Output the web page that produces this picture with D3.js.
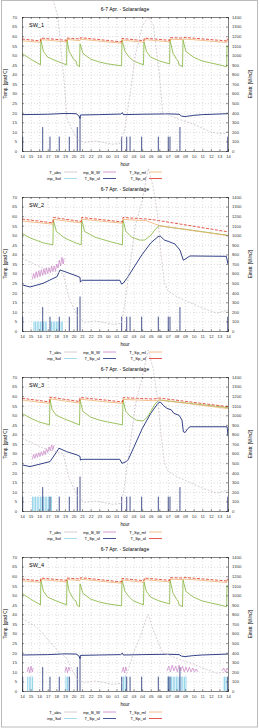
<!DOCTYPE html>
<html>
<head>
<meta charset="utf-8">
<script src="https://cdn.jsdelivr.net/npm/d3@7"></script>
<style>
  body { margin: 0; background: #fff; }
  svg { display: block; font-family: "Liberation Sans", Arial, sans-serif; }
</style>
</head>
<body>
<div id="chart"></div>
<script>
// ---- data (x in hours from start of window, values in grad C) ----
var hourLabels = ["14","15","16","17","18","19","20","21","22","23","00","01","02","03","04","05","06","07","08","09","10","11","12","13","14"];
var leftTicks = [0,5,10,15,20,25,30,35,40,45,50,55,60,65,70];
var rightTicks = [0,100,200,300,400,500,600,700,800,900,1000,1100,1200,1300,1400];
var panelNames = ["SW_1","SW_2","SW_3","SW_4"];
var legendNames = ["T_abs","inp_B_W","T_Sp_ml","inp_Sol","T_Sp_ul","T_Sp_ol"];

// pump pulses (same for all four)
var pumpHours  = [0.08, 2.41, 3.26, 4.34, 5.51, 6.44, 6.76, 11.61, 12.2, 12.59, 13.94, 15.88, 17.04, 17.24, 18.4, 23.97];
var pumpValues = [7.5, 12.5, 7.5, 7.5, 7.5, 12.5, 18, 7.5, 7.5, 7.5, 7.5, 7.5, 7.5, 7.5, 12.5, 7.5];

// SW_1
var sw1_ol = [[0,58.5],[2.15,57.5],[2.2,59],[5.2,57.8],[5.24,59],[6.76,58.5],[6.8,59.2],[11.6,57],[11.65,58.8],[14.2,57.6],[14.25,59],[17.2,57.8],[17.24,59.2],[18.76,59],[19,59.3],[23.85,57.5],[23.88,58.5],[24,58.3]];
var sw1_ml = [[0,57.6],[2.15,56.8],[2.2,58.2],[5.2,57],[5.24,58.3],[6.76,57.6],[6.8,58.4],[11.6,56.3],[11.65,58],[14.2,56.8],[14.25,58.2],[17.2,57],[17.24,58.4],[18.76,58.2],[19,58.5],[23.85,56.7],[23.88,57.7],[24,57.5]];
var sw1_vl = [[0,51],[1,48],[2.15,45],[2.2,58],[2.5,52],[3,49],[4,47],[5.2,45],[5.24,58],[5.5,52],[6,48],[6.3,47],[6.4,45],[6.7,44],[6.76,56],[7.1,51],[8,48],[9,46.5],[10,45.5],[11.6,44.5],[11.65,58],[12,52],[12.5,49],[13,47],[14.15,45],[14.21,57],[14.5,52],[15,49],[16,47],[17.2,45.5],[17.24,58],[17.6,51],[18,48],[18.2,47],[18.3,45],[18.7,44],[18.76,58],[19.1,52],[20,49],[21,47],[22,46],[23,45],[23.85,44],[23.88,55],[24,54]];
var sw1_ul = [[0,19],[3,19.2],[5,19.6],[6.3,19.5],[6.6,18.5],[6.76,17],[6.8,18.8],[9,19],[11.5,19.3],[11.7,20],[11.8,19],[14,19.2],[17,19.4],[18.3,19.2],[18.6,18.2],[19,18],[20,18.6],[21,19],[24,19.5]];
var sw1_abs = [[0,95],[3,86],[3.6,79],[4.2,70],[4.6,50],[5,32],[5.24,17],[5.83,11],[6.52,5.7],[7.3,4.5],[8.5,5.2],[9.5,4.5],[10.5,3.5],[11.4,4],[12,12],[12.6,30],[13.2,50],[14,65],[14.7,70],[15.3,66],[16,40],[16.4,20],[17,19],[18,17],[19,15.5],[20,14],[21,12],[22,10],[22.7,9.3],[23.5,9],[24,10]];
var sw1_bw = [];
var sw1_sol = [];

// SW_2
var sw2_ol = [[0,58.5],[3.6,56.5],[3.65,59.3],[6.9,57.2],[6.95,59.3],[11.7,57],[11.77,59.3],[14.5,58.5],[15.5,58],[24,51.8]];
var sw2_ml = [[0,57.5],[3.6,55.8],[3.65,58.3],[6.9,56.5],[6.95,58.4],[11.7,56.3],[11.77,58.3],[14.5,57.6],[16,55],[24,49.8]];
var sw2_vl = [[0,51],[1,48.5],[2.5,46],[3.6,45],[3.65,58],[4,52],[5,48.5],[6,46.5],[6.9,45],[6.95,58],[7.3,52],[8.5,49],[10,47],[11.7,45],[11.77,58],[12.1,52],[12.8,49],[13.7,47.5],[14.3,47.5],[15,50],[15.6,53.5],[16,55],[17,54.3],[20,52.5],[24,50]];
var sw2_ul = [[0.1,24],[0.93,23],[2.45,24.9],[4.08,28.4],[4.43,31.9],[5,31],[6.4,28.7],[6.76,28],[6.8,25.5],[7,26.5],[11.4,26.5],[11.6,24.5],[11.8,25],[12.3,28],[13,33],[14,40],[15,46],[15.85,49.3],[16.1,49.6],[16.6,47.5],[17.1,46.7],[17.5,46],[17.8,45.5],[18.4,42.3],[18.8,37],[19,37.5],[19.57,39.2],[23.8,39],[24,35]];
var sw2_abs = [[0,38],[2.4,33],[4.8,30],[5.5,17],[6.5,7.5],[7.3,4.5],[8.5,5.2],[9.5,4.5],[10.5,3.5],[11.6,4],[12,15],[12.6,35],[13.2,55],[14,68],[14.7,85],[15.3,75],[15.8,60],[16.2,40],[16.6,25],[17,21],[18,18],[19,16],[20,14],[21,12],[22.7,9.3],[24,11]];
var sw2_bw = [[1.2,27],[1.35,30],[1.5,27.5],[1.65,31],[1.8,28],[1.95,31.5],[2.1,28.5],[2.25,32],[2.4,29],[2.55,32.5],[2.7,29.5],[2.85,33],[3,30],[3.15,33],[3.3,30.5],[3.45,34],[3.6,31],[3.75,34],[3.9,31.5],[4.05,35],[4.2,33],[4.35,37],[4.5,34],[4.65,38.5],[4.8,35],[4.9,38]];
var sw2_sol = [[1.28,2.9,5],[3.26,4.78,5]];

// SW_3
var sw3_ol = [[0,58.9],[3.2,57],[3.26,59.5],[6.7,57.2],[6.76,59.3],[11.7,57],[11.77,59.2],[15.3,58.5],[16,59],[24,54.5]];
var sw3_ml = [[0,58],[3.2,56.2],[3.26,58.6],[6.7,56.4],[6.76,58.4],[11.7,56.2],[11.77,58.3],[15.3,57.6],[16,58],[24,53.5]];
var sw3_vl = [[0,51],[1,48.5],[2,46.5],[3.2,45],[3.26,58.5],[3.5,53],[4,50],[5,48],[6.7,45],[6.76,58],[7.1,52],[8,49],[9,47.5],[10,46.5],[11.7,45],[11.77,58],[12.1,52],[12.6,49.5],[13.3,47.5],[14.1,47],[14.6,49],[15,52],[15.5,56],[16,58],[17,57.5],[20,56],[24,54]];
var sw3_ul = [[0.1,24],[0.93,23.2],[3.26,25.8],[4.2,32],[4.3,32.8],[5.2,31],[6.4,29.3],[6.76,28.5],[6.8,26.6],[7,27],[11.4,27],[11.65,24.9],[12,25.5],[12.35,26.6],[13,33],[14,43],[15,51],[15.85,56.3],[16.1,57],[16.5,55],[16.9,53.6],[17.4,52.8],[17.7,51],[18.3,50],[18.64,47.5],[18.8,41.4],[19,41],[19.3,43],[19.57,44],[23.9,44],[24,39]];
var sw3_abs = [[0,38],[2.4,33],[4.8,30],[5.5,17],[6.5,7.5],[7.3,4.5],[8.5,5.2],[9.5,4.5],[10.5,3.5],[11.6,4],[12,15],[12.6,35],[13.2,55],[14,70],[14.7,84],[15.3,74],[15.8,58],[16.2,40],[16.6,25],[17,21],[18,18],[19,16],[20,14],[21,12],[22.7,9.3],[24,11]];
var sw3_bw = [[1.2,27],[1.35,29.5],[1.5,27.5],[1.65,30],[1.8,28],[1.95,30.5],[2.1,28.5],[2.25,31],[2.4,29],[2.55,31.5],[2.7,29.5],[2.85,32.5],[3,30.5],[3.15,33.5],[3.3,31.5],[3.45,34.5],[3.6,32],[3.75,34.5]];
var sw3_sol = [[1.16,3.5,7.5]];

// SW_4
var sw4_ul = [[0,18.8],[3,19],[5,19.4],[6.3,19.3],[6.6,18.5],[6.76,17],[6.8,18.6],[9,18.8],[11.5,19],[11.7,19.8],[11.8,18.8],[14,19],[17,19.2],[18.3,19],[18.6,18.2],[19,18],[20,18.5],[21,18.8],[24,19.3]];
var sw4_abs = [[0,38],[1.5,34],[2.45,30],[4.08,21.4],[5.24,17],[5.83,11],[6.52,5.7],[7.3,4.5],[8.5,5.2],[9.5,4.5],[10.5,3.5],[11.6,4],[12.3,10],[13,20],[13.75,28],[14.4,37],[14.7,40],[15.2,33],[16,24],[16.4,20],[17,19],[18,17],[19,15.5],[20,14],[21,12],[22.7,9.3],[24,10]];
var sw4_bw = [[0.6,10],[0.75,12.5],[0.9,9.5],[1.05,13],[1.2,10],[1.3,12],null,[5,10],[5.15,12.5],[5.3,9.5],[5.45,12.5],[5.6,10.5],null,[11.65,10],[11.8,12.5],[11.95,9.5],[12.1,12.5],[12.2,10.5],null,[16.9,10.5],[17.1,13],[17.3,10],[17.5,13.5],[17.7,10.5],[17.9,13],[18.1,10],[18.3,13.5],[18.5,10.5],[18.7,13],[18.9,10],[19.1,12.5],[19.3,10],[19.5,12.5],[19.7,10],[19.9,12],[20.1,10],[20.3,11.5],[20.5,10],null,[23.3,10.5],[23.5,12],[23.7,10],[23.9,12],[24,11]];
var sw4_sol = [[0.6,1.3,7.5],[5,5.6,7.5],[11.65,12.2,7.5],[16.9,19.2,7.5],[23.4,24,7.5]];

var panels = [
  {name: panelNames[0], ol: sw1_ol, ml: sw1_ml, vl: sw1_vl, ul: sw1_ul, abs: sw1_abs, bw: sw1_bw, sol: sw1_sol},
  {name: panelNames[1], ol: sw2_ol, ml: sw2_ml, vl: sw2_vl, ul: sw2_ul, abs: sw2_abs, bw: sw2_bw, sol: sw2_sol},
  {name: panelNames[2], ol: sw3_ol, ml: sw3_ml, vl: sw3_vl, ul: sw3_ul, abs: sw3_abs, bw: sw3_bw, sol: sw3_sol},
  {name: panelNames[3], ol: sw1_ol, ml: sw1_ml, vl: sw1_vl, ul: sw4_ul, abs: sw4_abs, bw: sw4_bw, sol: sw4_sol}
];

var colors = {abs: "#cdbfca", bw: "#c77fc4", ml: "#f0b070", sol: "#8fd0e8", ul: "#1c2c7a", ol: "#e03020", vl: "#84b43a", pump: "#4a5690"};

// ---- drawing ----
var width = 259, height = 728, panelH = 180;
var svg = d3.select("#chart").append("svg")
  .attr("width", width)
  .attr("height", height);

// hatching for the solar input blocks
var pat = svg.append("defs").append("pattern")
  .attr("id", "hatch")
  .attr("patternUnits", "userSpaceOnUse")
  .attr("width", 1.6).attr("height", 4);
pat.append("rect").attr("width", 1.6).attr("height", 4).attr("fill", "#e4f5fb");
pat.append("rect").attr("width", 0.8).attr("height", 4).attr("fill", colors.sol);

svg.append("rect")
  .attr("x", 1.5).attr("y", 0.5)
  .attr("width", width - 3).attr("height", height - 1.5)
  .attr("fill", "none").attr("stroke", "#bbb").attr("stroke-width", 1);

var x = d3.scaleLinear().domain([0, 24]).range([22, 228]);
var y = d3.scaleLinear().domain([0, 70]).range([151, 17]);
var y2 = d3.scaleLinear().domain([0, 1400]).range([151, 17]);

var line = d3.line()
  .defined(function(d) { return d !== null; })
  .x(function(d) { return x(d[0]); })
  .y(function(d) { return y(d[1]); });

panels.forEach(function(p, i) {
  var g = svg.append("g").attr("transform", "translate(0," + (i * panelH) + ")");

  // title
  g.append("text")
    .attr("x", 125).attr("y", 11)
    .attr("text-anchor", "middle")
    .attr("font-size", 5)
    .text("6-7 Apr. - Solaranlage");

  // grid
  g.append("g")
    .attr("transform", "translate(0,151)")
    .call(d3.axisBottom(x).tickValues(d3.range(25)).tickSize(-134).tickFormat(""))
    .call(function(s) {
      s.select(".domain").remove();
      s.selectAll("line").attr("stroke", "#c8c8c8").attr("stroke-dasharray", "1,2").attr("stroke-width", 0.6);
    });
  g.append("g")
    .attr("transform", "translate(22,0)")
    .call(d3.axisLeft(y).tickValues(leftTicks).tickSize(-206).tickFormat(""))
    .call(function(s) {
      s.select(".domain").remove();
      s.selectAll("line").attr("stroke", "#c8c8c8").attr("stroke-dasharray", "1,2").attr("stroke-width", 0.6);
    });

  // clip for plot
  var clipId = "clip" + i;
  g.append("clipPath").attr("id", clipId)
    .append("rect").attr("x", 22).attr("y", 17).attr("width", 206).attr("height", 134);

  var plot = g.append("g").attr("clip-path", "url(#" + clipId + ")");

  // solar input blocks
  plot.selectAll(".sol")
    .data(p.sol)
    .enter().append("rect")
    .attr("x", function(d) { return x(d[0]); })
    .attr("y", function(d) { return y(d[2]); })
    .attr("width", function(d) { return x(d[1]) - x(d[0]); })
    .attr("height", function(d) { return y(0) - y(d[2]); })
    .attr("fill", "url(#hatch)");

  // pump pulses
  plot.selectAll(".pump")
    .data(pumpHours)
    .enter().append("rect")
    .attr("x", function(d) { return x(d) - 0.5; })
    .attr("y", function(d, j) { return y(pumpValues[j]); })
    .attr("width", 1)
    .attr("height", function(d, j) { return y(0) - y(pumpValues[j]); })
    .attr("fill", colors.pump);

  // T_abs (not clipped, runs over the top like the original)
  g.append("path")
    .datum(p.abs)
    .attr("d", line)
    .attr("fill", "none")
    .attr("stroke", colors.abs)
    .attr("stroke-width", 0.8)
    .attr("stroke-dasharray", "2,1.5");

  if (p.bw.length) {
    plot.append("path")
      .datum(p.bw)
      .attr("d", line)
      .attr("fill", "none")
      .attr("stroke", colors.bw)
      .attr("stroke-width", 0.7);
  }

  plot.append("path").datum(p.ul).attr("d", line)
    .attr("fill", "none").attr("stroke", colors.ul).attr("stroke-width", 0.9);
  plot.append("path").datum(p.vl).attr("d", line)
    .attr("fill", "none").attr("stroke", colors.vl).attr("stroke-width", 0.8);
  plot.append("path").datum(p.ml).attr("d", line)
    .attr("fill", "none").attr("stroke", colors.ml).attr("stroke-width", 0.8);
  plot.append("path").datum(p.ol).attr("d", line)
    .attr("fill", "none").attr("stroke", colors.ol).attr("stroke-width", 0.8)
    .attr("stroke-dasharray", "3,1.5");

  // axes
  var ax = g.append("g")
    .attr("transform", "translate(0,151)")
    .call(d3.axisBottom(x).tickValues(d3.range(25)).tickSize(-2).tickPadding(4)
      .tickFormat(function(d) { return hourLabels[d]; }));
  var axTop = g.append("g")
    .attr("transform", "translate(0,17)")
    .call(d3.axisTop(x).tickValues(d3.range(25)).tickSize(-2).tickFormat(""));
  var ayL = g.append("g")
    .attr("transform", "translate(22,0)")
    .call(d3.axisLeft(y).tickValues(leftTicks).tickSize(-2).tickPadding(5));
  var ayR = g.append("g")
    .attr("transform", "translate(228,0)")
    .call(d3.axisRight(y2).tickValues(rightTicks).tickSize(-2).tickPadding(4)
      .tickFormat(d3.format("d")));

  [ax, axTop, ayL, ayR].forEach(function(a) {
    a.selectAll("text").attr("font-size", 4.2).attr("fill", "#333");
    a.selectAll("line").attr("stroke", "#333").attr("stroke-width", 0.5);
    a.select(".domain").attr("stroke", "#333").attr("stroke-width", 0.6);
  });

  // axis titles
  g.append("text")
    .attr("x", 125).attr("y", 166)
    .attr("text-anchor", "middle").attr("font-size", 4.5)
    .text("hour");
  g.append("text")
    .attr("transform", "translate(7,84) rotate(-90)")
    .attr("text-anchor", "middle").attr("font-size", 4.5)
    .text("Temp. [grad C]");
  g.append("text")
    .attr("transform", "translate(252,84) rotate(-90)")
    .attr("text-anchor", "middle").attr("font-size", 4.5)
    .text("Einstr. [W/m2]");

  // panel label
  g.append("text")
    .attr("x", 29).attr("y", 27)
    .attr("font-size", 5.5)
    .text(p.name);

  // legend (2 rows x 3 columns)
  var legColors = [colors.abs, colors.bw, colors.ml, colors.sol, colors.ul, colors.ol];
  var textRight = [61, 100, 146];
  legendNames.forEach(function(n, k) {
    var col = k % 3, row = Math.floor(k / 3);
    var yy = 173.5 + row * 6.5;
    g.append("text")
      .attr("x", textRight[col]).attr("y", yy)
      .attr("text-anchor", "end").attr("font-size", 4.2)
      .text(n);
    g.append("line")
      .attr("x1", textRight[col] + 3).attr("x2", textRight[col] + 16)
      .attr("y1", yy - 1.5).attr("y2", yy - 1.5)
      .attr("stroke", legColors[k]).attr("stroke-width", 0.8);
  });
});
</script>
</body>
</html>
